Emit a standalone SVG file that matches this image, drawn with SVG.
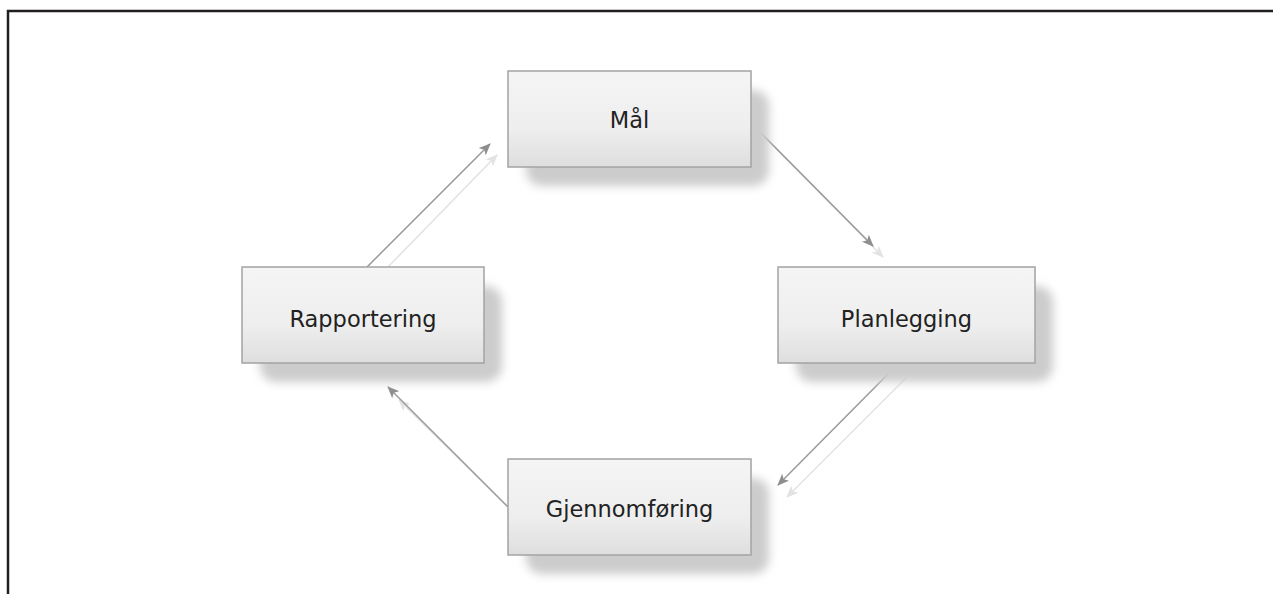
<svg xmlns="http://www.w3.org/2000/svg" width="1274" height="594" viewBox="0 0 1274 594">
<style>
.box{fill:url(#boxg);stroke:#a3a3a3;stroke-width:1.5}
.shadow{fill:#cccccc;filter:url(#blur)}
.lbl{font-family:"DejaVu Sans","Open Sans",sans-serif;font-size:22.5px;fill:#222;text-anchor:middle;dominant-baseline:central}
.dark{stroke:#9a9a9a;stroke-width:1.5;fill:none;marker-end:url(#ahd)}
.light{stroke:#e2e2e2;stroke-width:1.5;fill:none;marker-end:url(#ahl)}
</style>
<defs>
<linearGradient id="boxg" x1="0" y1="0" x2="0" y2="1">
<stop offset="0" stop-color="#f5f5f5"/>
<stop offset="0.6" stop-color="#eeeeee"/>
<stop offset="1" stop-color="#dedede"/>
</linearGradient>
<filter id="blur" x="-20%" y="-20%" width="140%" height="140%"><feGaussianBlur stdDeviation="5"/></filter>
<marker id="ahd" viewBox="0 0 12 10" refX="11" refY="5" markerWidth="12" markerHeight="10" markerUnits="userSpaceOnUse" orient="auto"><path d="M0,0 L12,5 L0,10 L3,5 Z" fill="#8e8e8e"/></marker>
<marker id="ahl" viewBox="0 0 12 10" refX="11" refY="5" markerWidth="12" markerHeight="10" markerUnits="userSpaceOnUse" orient="auto"><path d="M0,0 L12,5 L0,10 L3,5 Z" fill="#e2e2e2"/></marker>
</defs>
<rect width="1274" height="594" fill="#fff"/>
<path d="M8,594 V11 H1273" fill="none" stroke="#231f20" stroke-width="2.5"/>
<g id="connectors">
<line class="light" x1="760" y1="132" x2="883" y2="257"/>
<line class="dark" x1="752" y1="124" x2="873" y2="246"/>
<line class="light" x1="907" y1="377" x2="787" y2="497"/>
<line class="dark" x1="898" y1="364" x2="778" y2="485"/>
<line class="light" x1="512" y1="511" x2="399" y2="400"/>
<line class="dark" x1="508" y1="507" x2="388" y2="387"/>
<line class="light" x1="388" y1="267" x2="497" y2="155"/>
<line class="dark" x1="367" y1="267" x2="490" y2="144"/>
</g>
<g id="node-maal">
<rect class="shadow" x="526" y="90" width="243" height="96" rx="16"/>
<rect class="box" x="508" y="71" width="243" height="96"/>
<text class="lbl" x="629.5" y="120">Mål</text>
</g>
<g id="node-planlegging">
<rect class="shadow" x="796" y="286" width="257" height="96" rx="16"/>
<rect class="box" x="778" y="267" width="257" height="96"/>
<text class="lbl" x="906.5" y="319">Planlegging</text>
</g>
<g id="node-rapportering">
<rect class="shadow" x="260" y="286" width="242" height="96" rx="16"/>
<rect class="box" x="242" y="267" width="242" height="96"/>
<text class="lbl" x="363" y="319">Rapportering</text>
</g>
<g id="node-gjennomforing">
<rect class="shadow" x="526" y="478" width="243" height="96" rx="16"/>
<rect class="box" x="508" y="459" width="243" height="96"/>
<text class="lbl" x="629.5" y="509">Gjennomføring</text>
</g>
</svg>
